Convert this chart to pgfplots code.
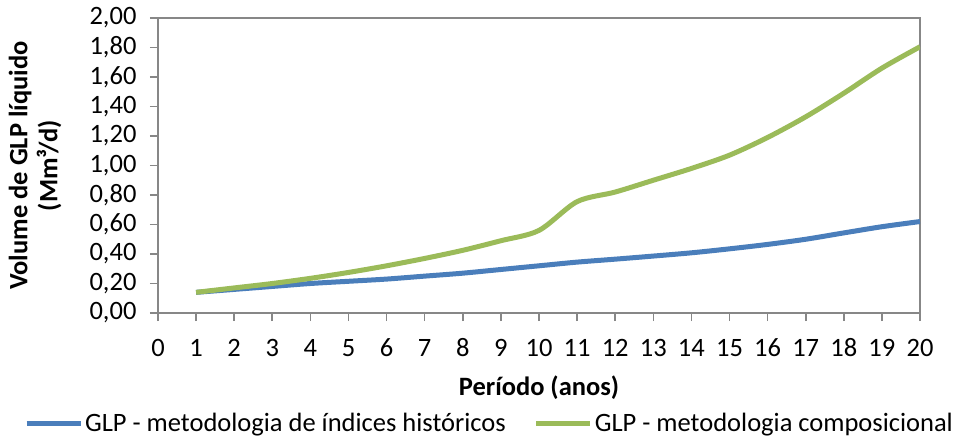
\documentclass[border=0pt]{standalone}
\usepackage{pgfplots}
\pgfplotsset{compat=1.18}
\usepackage{fontspec}
\setmainfont{Carlito}
\definecolor{cblue}{HTML}{4A7EBB}
\definecolor{cgreen}{HTML}{9BBB59}
\definecolor{axgray}{HTML}{878787}
\begin{document}
\begin{tikzpicture}
\begin{axis}[
  name=main,
  scale only axis,
  width=762pt, height=295pt,
  xmin=0, xmax=20, ymin=0, ymax=2,
  xtick={0,1,...,20},
  ytick={0,0.2,...,2.01},
  axis line style={axgray, line width=1.6pt},
  tick style={axgray, line width=1.6pt},
  tick align=outside,
  major tick length=8pt,
  xtick pos=bottom, ytick pos=left,
  /pgf/number format/assume math mode=true,
  yticklabel style={/pgf/number format/.cd, fixed, fixed zerofill, precision=2, use comma, /tikz/.cd, xshift=-10pt},
  xticklabel style={yshift=-15pt, text height=17pt, text depth=0pt},
  tick label style={font=\fontsize{26.5}{30}\selectfont},
  xlabel={\textbf{Período (anos)}},
  ylabel={\textbf{Volume de GLP líquido}\\\textbf{(Mm³/d)}},
  ylabel style={align=center, font=\fontsize{26.5}{30}\selectfont,
    at={(axis description cs:-0.122,0.5)}, anchor=south},
  xlabel style={font=\fontsize{26.5}{30}\selectfont,
    at={(axis description cs:0.5,-0.281)}, anchor=base},
  legend style={at={(axis description cs:-0.18,-0.373)}, anchor=west, draw=none, legend columns=2,
    font=\fontsize{26.5}{30}\selectfont,
    /tikz/every even column/.append style={column sep=26pt}},
  legend cell align=left,
  legend image code/.code={\draw[#1] (0pt,0pt) -- (54pt,0pt);},
  every axis plot/.append style={line width=5pt, smooth, no markers},
]
\addplot[cblue] coordinates {
(1,0.14) (2,0.16) (3,0.18) (4,0.20) (5,0.215) (6,0.23) (7,0.25) (8,0.27) (9,0.295) (10,0.32)
(11,0.345) (12,0.365) (13,0.386) (14,0.408) (15,0.435) (16,0.465) (17,0.50) (18,0.543) (19,0.585) (20,0.62)};
\addlegendentry{GLP - metodologia de índices históricos}
\addplot[cgreen] coordinates {
(1,0.14) (2,0.17) (3,0.20) (4,0.235) (5,0.275) (6,0.32) (7,0.37) (8,0.425) (9,0.49) (10,0.56)
(11,0.755) (12,0.82) (13,0.90) (14,0.98) (15,1.07) (16,1.19) (17,1.33) (18,1.49) (19,1.66) (20,1.805)};
\addlegendentry{GLP - metodologia composicional}
\end{axis}
\pgfresetboundingbox
\path (main.south west) ++(-158pt,-126pt) rectangle ++(954pt,439pt);
\end{tikzpicture}
\end{document}
